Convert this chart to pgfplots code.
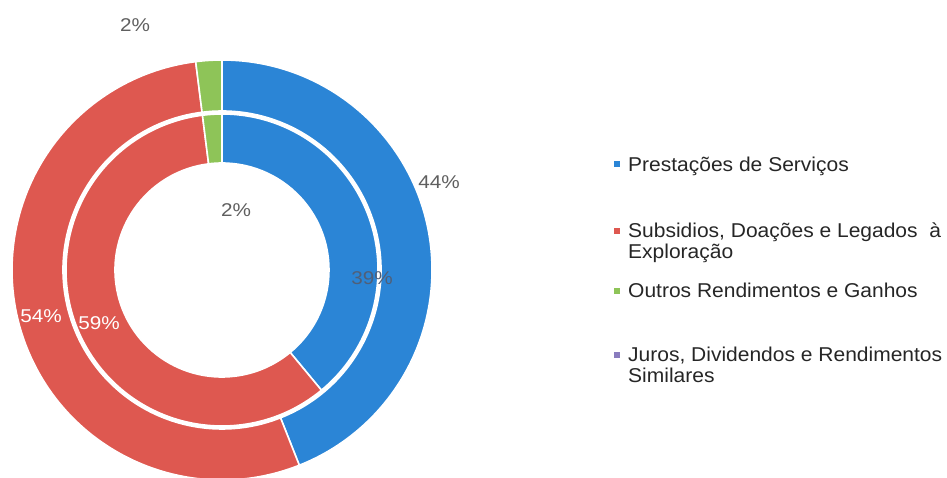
\documentclass[border=0pt]{standalone}
\usepackage{fontspec}
\setmainfont{Liberation Sans}[FakeStretch=1.05]
\newfontfamily\lblfont{Liberation Sans}[FakeStretch=1.12]
\usepackage{pgfplots}
\pgfplotsset{compat=1.18}
\definecolor{cblue}{RGB}{43,133,214}
\definecolor{cred}{RGB}{222,88,80}
\definecolor{cgreen}{RGB}{142,196,88}
\definecolor{cpurple}{RGB}{137,124,190}
\definecolor{lblgray}{RGB}{95,95,95}
\definecolor{lbldark}{RGB}{80,95,120}
\definecolor{legtext}{RGB}{38,38,38}
% ring slice: r0 r1 startpct endpct colour  (centre at 222,208)
\newcommand{\slice}[5]{%
  \filldraw[fill=#5, draw=white, line width=1.6bp]
    (axis cs:{222+#2*cos(90-3.6*#3)},{208+#2*sin(90-3.6*#3)})
    arc[start angle={90-3.6*#3}, end angle={90-3.6*#4}, radius=#2bp]
    -- (axis cs:{222+#1*cos(90-3.6*#4)},{208+#1*sin(90-3.6*#4)})
    arc[start angle={90-3.6*#4}, end angle={90-3.6*#3}, radius=#1bp]
    -- cycle;}
\begin{document}
\begin{tikzpicture}
\begin{axis}[
  name=main,
  x=1bp, y=1bp, xmin=0, xmax=947, ymin=0, ymax=478,
  hide axis, clip=false, scale only axis,
]
% data (percent): Prestacoes, Subsidios, Outros, Juros
% outer ring: 44, 54, 2, 0 ; inner ring: 39, 59, 2, 0
\addplot[draw=none] coordinates {(0,0) (947,478)};
% outer ring (r 159..210)
\slice{159}{210}{0}{44}{cblue}
\slice{159}{210}{44}{98}{cred}
\slice{159}{210}{98}{100}{cgreen}
% inner ring (r 107..156)
\slice{107}{156}{0}{39}{cblue}
\slice{107}{156}{39}{98}{cred}
\slice{107}{156}{98}{100}{cgreen}
% labels
\node[font=\lblfont\fontsize{18.5bp}{22bp}\selectfont, text=lblgray] at (axis cs:135,453) {2\%};
\node[font=\lblfont\fontsize{18.5bp}{22bp}\selectfont, text=lblgray] at (axis cs:439,296) {44\%};
\node[font=\lblfont\fontsize{18.5bp}{22bp}\selectfont, text=lblgray] at (axis cs:236,268) {2\%};
\node[font=\lblfont\fontsize{18.5bp}{22bp}\selectfont, text=lbldark] at (axis cs:372,200) {39\%};
\node[font=\lblfont\fontsize{18.5bp}{22bp}\selectfont, text=white] at (axis cs:41,162) {54\%};
\node[font=\lblfont\fontsize{18.5bp}{22bp}\selectfont, text=white] at (axis cs:99,155) {59\%};
% legend
\fill[cblue]   (axis cs:614,311) rectangle (axis cs:620,317);
\fill[cred]    (axis cs:614,244) rectangle (axis cs:620,250);
\fill[cgreen]  (axis cs:614,184) rectangle (axis cs:620,190);
\fill[cpurple] (axis cs:614,120) rectangle (axis cs:620,126);
\begin{scope}[every node/.style={anchor=base west, inner sep=0pt, text=legtext, font=\fontsize{20bp}{23bp}\selectfont}]
\node at (axis cs:628,306.5) {Prestações de Serviços};
\node at (axis cs:628,240.5) {Subsidios, Doações e Legados\ \ à};
\node at (axis cs:628,219.5) {Exploração};
\node at (axis cs:628,180.5) {Outros Rendimentos e Ganhos};
\node at (axis cs:628,116.5) {Juros, Dividendos e Rendimentos};
\node at (axis cs:628,95.5) {Similares};
\end{scope}
\end{axis}
\pgfresetboundingbox
\path[use as bounding box] (main.south west) rectangle (main.north east);
\end{tikzpicture}
\end{document}
